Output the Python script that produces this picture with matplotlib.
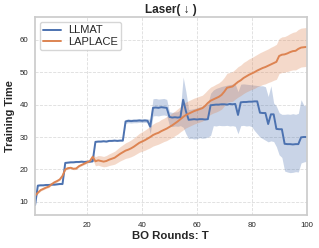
import numpy as np
import matplotlib.pyplot as plt
import seaborn as sns

# BO rounds
rounds = np.arange(1, 101)

# LLMAT: mean and band (lower / upper)
llmat_mean = [
    9.0,
    15.0, 15.1, 15.1, 15.2, 15.2, 15.3, 15.3, 15.4, 15.5, 15.5,
    22.0, 22.1, 22.2, 22.2, 22.3, 22.3, 22.4, 22.3, 22.4, 22.4, 22.5,
    28.5, 28.6, 28.6, 28.7, 28.6, 28.8, 28.8, 28.9, 28.8, 28.9, 28.9,
    34.8, 35.0, 34.9, 35.0, 35.0, 35.1, 35.0, 35.1, 35.0,
    33.2,
    39.0, 39.1, 39.0, 39.2, 39.1, 39.0,
    36.2, 36.0, 36.1, 36.0, 36.1,
    41.5, 38.0,
    35.3, 35.4, 35.5, 35.4, 35.5, 35.5, 35.4, 35.5,
    39.8,
    39.9, 40.0, 40.0, 40.1, 40.1, 40.0, 40.2, 40.1, 40.2,
    36.8,
    40.7, 40.8, 40.8, 40.9, 40.9, 41.0, 41.0,
    37.5, 37.4, 37.4,
    34.0,
    37.0, 37.0,
    32.5, 32.4, 32.4,
    27.9, 27.8, 27.8, 27.7, 27.8, 27.8,
    29.9, 30.0, 30.0,
]
llmat_low = [
    8.8,
    14.8, 14.9, 14.9, 15.0, 15.0, 15.1, 15.1, 15.2, 15.3, 15.3,
    21.8, 21.9, 22.0, 22.0, 22.1, 22.1, 22.2, 22.1, 22.2, 22.2, 22.3,
    28.3, 28.4, 28.4, 28.5, 28.4, 28.6, 28.6, 28.7, 28.6, 28.7, 28.7,
    34.2, 34.4, 34.3, 34.4, 34.4, 34.5, 34.4, 34.5, 34.4,
    31.0,
    36.5, 36.6, 36.5, 36.7, 36.8, 36.6,
    33.5, 33.2, 33.4, 33.3, 33.5,
    33.0, 31.0,
    29.5, 29.6, 29.4, 29.5, 29.8, 29.6, 29.7, 30.0,
    30.5,
    33.5, 33.4, 33.6, 33.5, 33.5, 33.6, 33.4, 33.5, 33.3,
    31.0,
    33.5, 33.6, 33.4, 33.5, 33.2, 32.0, 31.0,
    30.0, 29.5, 29.0,
    28.5,
    28.8, 28.6,
    27.0, 24.5, 23.7,
    19.5, 19.2, 19.0, 19.1, 19.3, 19.2,
    22.0, 22.3, 22.5,
]
llmat_high = [
    9.2,
    15.2, 15.3, 15.3, 15.4, 15.4, 15.5, 15.5, 15.6, 15.7, 15.7,
    22.2, 22.3, 22.4, 22.4, 22.5, 22.5, 22.6, 22.5, 22.6, 22.6, 22.7,
    28.7, 28.8, 28.8, 28.9, 28.8, 29.0, 29.0, 29.1, 29.0, 29.1, 29.1,
    35.4, 35.6, 35.5, 35.6, 35.6, 35.7, 35.6, 35.7, 35.6,
    35.5,
    41.8, 41.9, 41.7, 41.8, 41.9, 41.6,
    37.8, 37.6, 37.7, 37.8, 38.5,
    48.5, 44.0,
    38.5, 38.6, 38.8, 39.0, 39.3, 39.5, 39.8, 40.2,
    43.5,
    44.5, 45.0, 45.3, 45.6, 45.8, 46.0, 46.2, 46.3, 46.3,
    44.0,
    46.3, 46.4, 46.3, 46.2, 46.1, 46.0, 45.9,
    45.8, 45.8, 45.5,
    42.5,
    45.8, 40.5,
    39.5, 37.5, 37.0,
    37.0, 37.1, 37.0, 37.2, 37.0, 37.3,
    41.5, 39.8, 39.6,
]

# LAPLACE: mean and std
laplace_mean = [
    11.9, 12.8, 13.6, 14.0, 14.4, 14.7, 15.4, 16.0, 16.4, 16.9,
    18.0, 20.0, 20.4, 20.5, 20.2, 20.3, 21.0, 21.4, 21.8, 22.2,
    22.6, 23.9, 22.5, 22.8, 22.6, 22.4, 22.6, 23.0, 23.3, 23.6,
    24.2, 24.8, 25.3, 25.8, 26.1, 26.5, 27.0, 27.6, 28.2, 28.6,
    29.0, 29.5, 30.0, 30.6, 31.0, 31.3, 31.8, 32.2, 32.6, 33.1,
    33.6, 34.2, 34.8, 35.5, 36.2, 36.8, 37.2, 37.6, 38.0, 38.3,
    38.6, 38.9, 39.6, 40.5, 41.2, 41.6, 42.0, 42.4, 43.0, 44.0,
    45.2, 45.4, 45.6, 46.3, 47.0, 47.5, 48.2, 48.7, 49.2, 49.6,
    50.0, 50.5, 50.9, 51.3, 51.6, 52.0, 52.4, 52.8, 53.2, 55.0,
    55.4, 55.5, 55.8, 56.2, 56.5, 56.6, 57.2, 57.6, 57.7, 57.8,
]
laplace_std = [
    0.3, 0.3, 0.3, 0.3, 0.3, 0.3, 0.3, 0.3, 0.3, 0.3,
    0.3, 0.3, 0.3, 0.3, 0.3, 0.3, 0.3, 0.3, 0.3, 0.3,
    0.4, 0.8, 1.4, 1.5, 1.6, 1.6, 1.7, 1.8, 1.9, 2.0,
    2.1, 2.2, 2.3, 2.4, 2.5, 2.6, 2.7, 2.8, 2.9, 3.0,
    3.1, 3.2, 3.3, 3.4, 3.5, 3.5, 3.6, 3.6, 3.7, 3.7,
    3.8, 3.8, 3.9, 3.9, 4.0, 4.0, 4.0, 4.0, 4.0, 4.0,
    4.0, 4.0, 4.1, 4.1, 4.2, 4.2, 4.3, 4.3, 4.4, 4.4,
    4.5, 4.5, 4.6, 4.6, 4.7, 4.7, 4.8, 4.8, 4.9, 4.9,
    5.0, 5.0, 5.1, 5.1, 5.2, 5.2, 5.3, 5.3, 5.4, 5.4,
    5.5, 5.5, 5.6, 5.7, 5.8, 5.9, 6.0, 6.0, 6.0, 6.0,
]

sns.set_theme(style="whitegrid")
plt.rcParams['font.family'] = ['Liberation Sans', 'DejaVu Sans']

blue = "#4C72B0"
orange = "#DD8452"

fig, ax = plt.subplots(figsize=(3.19, 2.48), dpi=100)
fig.subplots_adjust(left=0.11, right=0.961, top=0.931, bottom=0.134)

lm = np.array(laplace_mean)
ls = np.array(laplace_std)

ax.fill_between(rounds, llmat_low, llmat_high, color=blue, alpha=0.3, linewidth=0)
ax.fill_between(rounds, lm - ls, lm + ls, color=orange, alpha=0.3, linewidth=0)
ax.plot(rounds, llmat_mean, color=blue, lw=1.4, label="LLMAT")
ax.plot(rounds, laplace_mean, color=orange, lw=1.4, label="LAPLACE")

ax.set_xlim(1, 100)
ax.set_ylim(6, 67)
ax.set_xticks([20, 40, 60, 80, 100])
ax.set_yticks([10, 20, 30, 40, 50, 60])
ax.tick_params(labelsize=5.7, length=0, pad=5)
ax.grid(True, linestyle="--", linewidth=0.6, color="#dddddd")
for s in ax.spines.values():
    s.set_color("#cccccc")

ax.set_title("Laser( ↓ )", fontsize=8.5, fontweight="bold", pad=3)
ax.set_xlabel("BO Rounds: T", fontsize=8.2, fontweight="bold")
ax.set_ylabel("Training Time", fontsize=7.9, fontweight="bold")
ax.xaxis.set_label_coords(0.5, -0.08)
ax.yaxis.set_label_coords(-0.074, 0.5)
ax.legend(loc="upper left", fontsize=8, handlelength=1.6, borderpad=0.3,
          labelspacing=0.15, borderaxespad=0.45, handletextpad=0.6)

fig.savefig("out.png", dpi=100)
